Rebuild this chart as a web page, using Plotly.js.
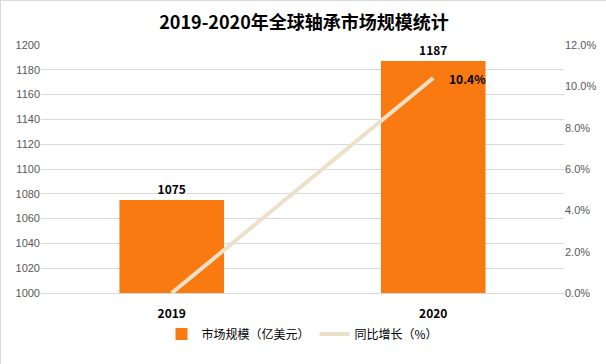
<!DOCTYPE html>
<html><head><meta charset="utf-8">
<script src="https://cdn.plot.ly/plotly-3.0.1.min.js"></script>
<style>html,body{margin:0;padding:0;background:#fff}#c{width:606px;height:364px;box-sizing:border-box;border:1px solid #d9d9d9}</style>
</head><body><div id="c"></div>
<script>
const years = ['2019', '2020'];
const marketSize = [1075, 1187];
const growth = [0.0, 10.4];
const barName = '市场规模（亿美元）';
const lineName = '同比增长（%）';

const cjk = '"Noto Sans CJK SC", "Noto Sans", sans-serif';
const traces = [
  {type:'bar', x:years, y:marketSize, name:barName, marker:{color:'#FA7A12'},
   text:marketSize.map(String), textposition:'outside', cliponaxis:false,
   textfont:{family:cjk, size:12, color:'#000', weight:'bold'}, hoverinfo:'x+y'},
  {type:'scatter', mode:'lines', x:years, y:growth, yaxis:'y2', name:lineName,
   line:{color:'#EDE0C8', width:4}}
];
const lastIdx = years.length - 1;
const layout = {
  width:606, height:364,
  margin:{l:40, r:43, t:44, b:72},
  paper_bgcolor:'#fff', plot_bgcolor:'#fff',
  title:{text:'<b>2019-2020年全球轴承市场规模统计</b>', font:{family:cjk, size:18, color:'#000'}, x:0.5, xanchor:'center', y:0.94, yanchor:'middle'},
  bargap:0.6,
  showlegend:true,
  legend:{orientation:'h', x:0.5, xanchor:'center', y:-0.165, yanchor:'middle', font:{family:cjk, size:12, color:'#000'}, traceorder:'normal'},
  xaxis:{type:'category', range:[-0.5, years.length-0.5], showline:true, linecolor:'#d9d9d9', linewidth:1, ticks:'',
    ticklabelstandoff:10,
    tickfont:{family:cjk, size:12, color:'#000', weight:'bold'}, fixedrange:true},
  yaxis:{range:[1000,1200], dtick:20, showgrid:true, gridcolor:'#d9d9d9', zeroline:false,
    tickfont:{family:'"Liberation Sans", sans-serif', size:11, color:'#595959'}, ticks:'', ticklen:0},
  yaxis2:{overlaying:'y', side:'right', range:[0,12], dtick:2, ticksuffix:'%', tickformat:'.1f',
    showgrid:false, zeroline:false, tickfont:{family:'"Liberation Sans", sans-serif', size:11, color:'#595959'}},
  annotations:[
    {x:lastIdx, y:growth[lastIdx], xref:'x', yref:'y2', text:'<b>'+growth[lastIdx].toFixed(1)+'%</b>', showarrow:false,
     xanchor:'left', xshift:14, font:{family:cjk, size:12, color:'#000'}}
  ]
};
Plotly.newPlot('c', traces, layout, {displayModeBar:false});
</script></body></html>
